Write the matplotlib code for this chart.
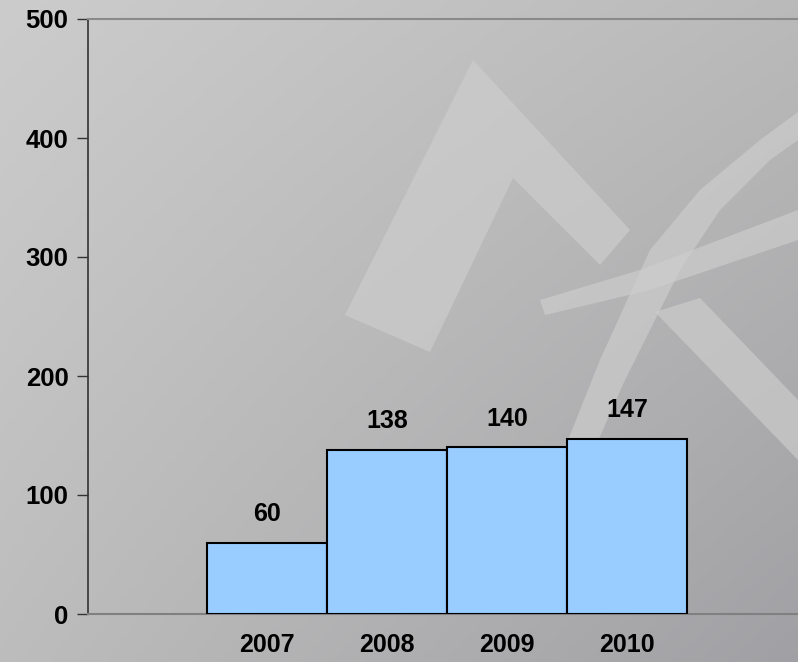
import numpy as np
import matplotlib.pyplot as plt
from matplotlib.patches import Polygon

years = ["2007", "2008", "2009", "2010"]
values = [60, 138, 140, 147]
y_ticks = [0, 100, 200, 300, 400, 500]

plt.rcParams['font.family'] = ['Liberation Sans', 'DejaVu Sans']
plt.rcParams['font.weight'] = 'bold'

fig = plt.figure(figsize=(7.98, 6.62), dpi=100)

# gradient gray background (bilinear between the four corners)
bg = fig.add_axes([0, 0, 1, 1], zorder=-2)
tl, tr = np.array([0.80, 0.80, 0.80]), np.array([0.73, 0.73, 0.73])
bl, br = np.array([0.74, 0.74, 0.74]), np.array([0.63, 0.63, 0.645])
u = np.linspace(0, 1, 200)[None, :, None]
v = np.linspace(0, 1, 200)[:, None, None]
img = (1 - v) * ((1 - u) * tl + u * tr) + v * ((1 - u) * bl + u * br)
bg.imshow(img, aspect='auto', extent=[0, 1, 0, 1], origin='upper')

# faint watermark
wm = '#cecece'
px = lambda pts: [(x / 798, 1 - y / 662) for x, y in pts]
bg.add_patch(Polygon(px([(473, 60), (630, 230), (600, 265), (513, 178), (430, 352), (345, 315)]),
                     closed=True, color=wm, alpha=0.65, lw=0))
bg.add_patch(Polygon(px([(560, 460), (600, 360), (650, 250), (700, 190), (760, 140), (798, 112),
                         (798, 140), (770, 160), (720, 210), (680, 270), (625, 380), (585, 470)]),
                     closed=True, color=wm, alpha=0.65, lw=0))
bg.add_patch(Polygon(px([(540, 300), (640, 270), (798, 210), (798, 240), (650, 290), (545, 315)]),
                     closed=True, color=wm, alpha=0.65, lw=0))
bg.add_patch(Polygon(px([(655, 312), (700, 298), (798, 400), (798, 460)]),
                     closed=True, color=wm, alpha=0.65, lw=0))
bg.set_xlim(0, 1)
bg.set_ylim(0, 1)
bg.axis('off')

ax = fig.add_axes([88 / 798, 48 / 662, 710 / 798, 595 / 662])
ax.patch.set_alpha(0)

x = np.arange(len(years))
ax.bar(x, values, width=1.0, color='#99ccff', edgecolor='black', linewidth=1.5, zorder=3)
for xi, v in zip(x, values):
    ax.annotate(str(v), (xi, v), xytext=(0, 12), textcoords='offset points',
                ha='center', va='bottom', fontsize=18, fontweight='bold')

ax.set_xlim(-1.49, 4.42)
ax.set_ylim(0, 500)
ax.set_yticks(y_ticks)
ax.set_xticks(x)
ax.set_xticklabels(years)
ax.tick_params(axis='y', length=8, width=1, color='#333333', labelsize=18.5, pad=6)
ax.tick_params(axis='x', length=0, labelsize=18, pad=14)

ax.spines['left'].set_color('#333333')
ax.spines['left'].set_linewidth(1.2)
ax.spines['bottom'].set_color('#808080')
ax.spines['bottom'].set_linewidth(1.5)
ax.spines['top'].set_color('#8a8a8a')
ax.spines['top'].set_linewidth(1.5)
ax.spines['right'].set_visible(False)

fig.savefig('out.png', dpi=100)
